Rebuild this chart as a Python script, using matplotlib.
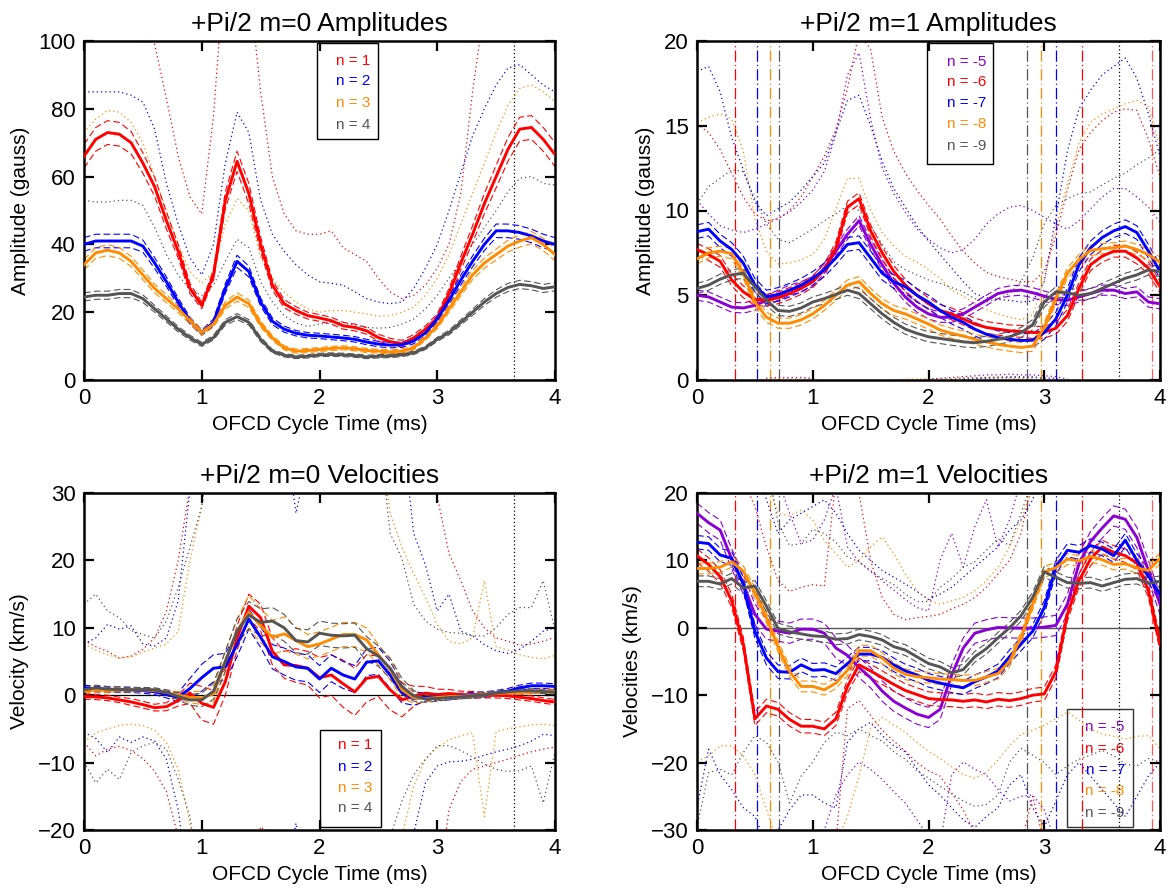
import numpy as np
import matplotlib
matplotlib.use("Agg")
import matplotlib.pyplot as plt
from matplotlib.patches import Rectangle

plt.rcParams['font.family'] = ['Liberation Sans', 'DejaVu Sans']

# ---------------- time grid (ms) ----------------
t = np.linspace(0.0, 4.0, 41)

RED, BLUE, ORANGE, GRAY, PURPLE = '#ff0000', '#0000ff', '#ff8c00', '#555555', '#8a00d4'

# ================= m=0 amplitudes (gauss) =================
tl_n1 = [66, 71, 73, 72.5, 70, 64, 57, 47, 38, 27, 22, 31, 53, 64.5, 55, 40, 28, 22.5, 20.5, 19, 18.3, 17.5, 16, 15.5, 14.5, 12.5, 11.3, 10.7, 12.4, 15, 18.3, 25.5, 34.5, 43, 52, 60, 68, 74, 74.5, 71, 66.5]
tl_n2 = [40, 41, 41, 41, 41, 39.5, 34.5, 29, 23, 17.5, 14, 17, 27, 35, 32, 23, 17.3, 15, 13.8, 13.2, 13, 12.7, 12.4, 12, 11.2, 10.6, 10.3, 10.4, 11.5, 13.9, 18, 23.5, 29.5, 35, 40, 44, 44, 43.5, 42.5, 41, 40]
tl_n3 = [34, 37.5, 38.3, 37.5, 35, 31, 27, 24, 21, 17.5, 14, 16.5, 22, 24.5, 22.5, 16.5, 12.4, 9.5, 8.5, 8.7, 9, 9.3, 9.5, 9.2, 8.7, 8.5, 8.3, 8.5, 9.5, 12.4, 16, 21, 26, 31, 34.5, 37, 39.5, 41, 42, 40, 37]
tl_n4 = [24.5, 25, 25, 25.5, 25.5, 24, 21, 18, 15, 12.5, 10.5, 12.5, 17, 18.7, 17, 12, 8.5, 7.3, 6.8, 7, 7.4, 7.5, 7.4, 7.2, 6.8, 7, 7.1, 7.4, 8, 9.5, 12, 14, 17, 20, 23, 25.5, 27.3, 28.2, 27.8, 27, 27.5]
tl_n1_err = [3.5, 3.5, 3.5, 3.5, 3.3, 3, 2.8, 2.5, 2, 1.5, 1, 1.5, 2.5, 3, 3, 2.2, 1.5, 1.2, 1.1, 1, 1, 1, 1, 1, 1, 1, 1, 1, 1, 1, 1.2, 1.5, 2, 2.5, 3, 3.3, 3.5, 3.5, 3.5, 3.5, 3.5]
tl_n2_err = [2, 2, 2, 2, 2, 1.8, 1.6, 1.4, 1.2, 1, 0.8, 1, 1.4, 1.8, 1.6, 1.2, 1, 0.9, 0.8, 0.8, 0.8, 0.8, 0.8, 0.8, 0.8, 0.8, 0.8, 0.8, 0.8, 0.9, 1, 1.2, 1.4, 1.6, 1.8, 2, 2, 2, 2, 2, 2]
tl_n3_err = [1.5, 1.6, 1.6, 1.6, 1.5, 1.4, 1.3, 1.2, 1.1, 1, 0.8, 0.9, 1.1, 1.2, 1.1, 0.9, 0.7, 0.6, 0.6, 0.6, 0.6, 0.6, 0.6, 0.6, 0.6, 0.6, 0.6, 0.6, 0.6, 0.7, 0.8, 1, 1.2, 1.4, 1.5, 1.6, 1.7, 1.8, 1.8, 1.8, 1.8]
tl_n4_err = [1.2, 1.2, 1.2, 1.2, 1.2, 1.1, 1, 0.9, 0.8, 0.7, 0.6, 0.7, 0.8, 0.9, 0.8, 0.7, 0.5, 0.5, 0.5, 0.5, 0.5, 0.5, 0.5, 0.5, 0.5, 0.5, 0.5, 0.5, 0.5, 0.5, 0.6, 0.7, 0.8, 0.9, 1, 1.1, 1.2, 1.2, 1.2, 1.2, 1.2]
tl_n1_up = [130, 130, 130, 130, 125, 110, 99, 83, 66, 54, 49, 78, 125, 140, 118, 85, 60, 49, 44, 43, 43, 44, 39, 37, 35, 30, 26, 24, 25, 28, 33, 40, 55, 85, 110, 130, 130, 130, 130, 130, 130]
tl_n2_up = [85, 85, 85, 85, 84, 82, 74, 58, 46, 36, 31, 40, 64, 79, 73, 53, 43, 38, 34, 31, 29, 28.5, 28, 26, 24, 23, 22.5, 23, 27, 33, 40, 50, 61, 72, 80, 87, 92, 93, 90, 87, 85]
tl_n3_up = [73, 77, 79.5, 79, 76, 70, 60, 50, 40, 32, 28.5, 32, 46, 53.5, 50, 36, 30, 26, 23, 21, 20, 20.5, 20.5, 20, 19.5, 18.8, 19, 20, 21.5, 25, 30, 37, 46, 55, 64, 73, 81, 86, 87, 85, 82]
tl_n4_up = [53, 52.5, 52.5, 53, 53, 51.5, 45, 37, 31, 26.5, 25, 28, 35, 41.5, 39, 29, 23, 19, 16.8, 15.8, 16.5, 17, 17, 16, 15.5, 15.3, 15.5, 16.5, 18, 21, 25, 30, 35, 40, 45, 50, 55.5, 59.5, 60, 58, 57.5]

# ================= m=1 amplitudes (gauss) =================
tr_n5 = [5.0, 4.9, 4.6, 4.3, 4.25, 4.4, 4.7, 5.0, 5.3, 5.5, 5.8, 6.6, 7.6, 8.6, 9.4, 8.0, 6.8, 5.7, 4.9, 4.3, 3.9, 3.7, 3.7, 3.9, 4.3, 4.7, 5.1, 5.25, 5.3, 5.15, 4.95, 4.75, 4.7, 4.9, 5.1, 5.3, 5.3, 5.1, 5.2, 4.6, 4.5]
tr_n6 = [7.7, 7.4, 7.0, 5.9, 5.2, 4.75, 4.7, 4.85, 5.1, 5.4, 5.8, 6.5, 7.8, 10.2, 10.7, 8.8, 7.5, 6.4, 5.6, 5.0, 4.5, 4.1, 3.9, 3.6, 3.3, 3.1, 3.0, 2.9, 2.87, 2.8, 2.82, 3.05, 3.8, 5.4, 6.8, 7.3, 7.6, 7.6, 7.2, 6.6, 5.5]
tr_n7 = [8.75, 8.9, 8.2, 7.7, 6.9, 5.6, 4.9, 5.05, 5.3, 5.6, 6.0, 6.5, 7.2, 8.0, 8.1, 7.2, 6.3, 5.8, 5.5, 5.0, 4.6, 4.1, 3.7, 3.4, 3.0, 2.7, 2.5, 2.4, 2.33, 2.35, 2.8, 3.6, 5.0, 6.8, 7.8, 8.4, 8.8, 9.05, 8.7, 7.6, 6.4]
tr_n8 = [7.15, 7.5, 7.6, 7.45, 6.3, 4.6, 3.7, 3.35, 3.35, 3.55, 3.9, 4.4, 5.0, 5.6, 5.8, 5.1, 4.5, 4.1, 3.9, 3.6, 3.3, 2.95, 2.75, 2.6, 2.4, 2.25, 2.1, 2.0, 1.92, 2.0, 3.1, 4.8, 6.3, 7.1, 7.65, 7.75, 7.8, 7.9, 7.7, 7.4, 6.95]
tr_n9 = [5.4, 5.6, 5.95, 6.2, 6.3, 5.5, 4.7, 4.1, 4.05, 4.25, 4.6, 4.8, 5.05, 5.3, 5.1, 4.5, 3.9, 3.4, 3.0, 2.75, 2.55, 2.45, 2.35, 2.25, 2.2, 2.28, 2.4, 2.55, 2.8, 3.26, 4.6, 5.2, 5.15, 5.0, 5.1, 5.4, 5.7, 6.0, 6.2, 6.5, 6.4]
tr_err = {'n5': 0.3, 'n6': 0.35, 'n7': 0.4, 'n8': 0.3, 'n9': 0.3}
tr_n5_up = [10.6, 9.8, 9.1, 8.85, 8.7, 8.9, 9.2, 9.55, 9.9, 10.5, 11.2, 12.3, 14.5, 18, 19.3, 15.4, 12.5, 11.0, 9.9, 8.9, 8.3, 7.8, 7.5, 7.7, 8.3, 9.2, 9.8, 10.2, 10.3, 10.0, 9.6, 9.2, 8.9, 9.4, 10.1, 10.8, 11.3, 11.3, 10.8, 10.2, 9.3]
tr_n6_up = [15.1, 14.6, 13.6, 12.2, 10.8, 9.8, 9.4, 9.5, 10.0, 10.8, 12.0, 13.2, 14.8, 17.2, 20.5, 19.5, 15.5, 13.5, 12.2, 11.2, 10.3, 9.5, 8.5, 7.6, 6.9, 6.35, 6.1, 5.95, 5.8, 5.8, 6.4, 8.5, 11.2, 13.6, 14.6, 15.3, 15.8, 16.0, 15.9, 14.2, 12.0]
tr_n7_up = [18.2, 18.5, 17, 14.3, 12.4, 10.5, 9.7, 10.1, 10.5, 11.2, 12, 12.8, 14.6, 16.5, 16.8, 15.0, 12.9, 11.3, 10.2, 9.1, 8.2, 7.4, 6.6, 5.8, 5.1, 4.85, 4.75, 4.7, 4.6, 4.65, 5.8, 9.6, 13.5, 16, 17.1, 18.0, 18.5, 19.0, 17.8, 15.7, 13.2]
tr_n8_up = [15.2, 15.5, 15.7, 15.4, 13.5, 9.5, 7.6, 6.85, 6.9, 7.1, 7.4, 8.3, 10.1, 11.9, 11.9, 10.0, 8.7, 7.9, 7.3, 6.95, 6.5, 6.0, 5.3, 4.95, 4.5, 4.15, 3.9, 3.7, 3.55, 3.85, 5.9, 9.0, 11.6, 14, 15.2, 15.7, 16.0, 16.3, 16.5, 16.1, 13.7]
tr_n9_up = [10.4, 11.4, 11.9, 12.4, 12.3, 10.7, 9.2, 8.3, 8.1, 8.5, 8.9, 9.4, 9.8, 10.3, 10.0, 9.1, 8.0, 7.0, 6.5, 6.2, 5.9, 5.7, 5.45, 5.2, 4.8, 4.6, 4.8, 5.1, 5.8, 7.2, 9.2, 10.3, 10.7, 11.0, 11.1, 11.5, 11.9, 12.2, 12.7, 13.1, 13.6]
tr_n5_lo = [-1, -1, -1, -1, -1, -0.2, 0.1, 0.15, 0.15, 0.15, 0.1, -0.2, -1, -1, -1, -1, -1, -1, -1, -1, 0.05, 0.1, 0.15, 0.2, 0.25, 0.3, 0.3, 0.35, 0.3, 0.3, 0.25, 0.2, 0.05, -0.5, -1, -1, -1, -1, -1, -1, -1]
tr_n7_lo = [-1, -1, -1, -1, -1, -1, -1, -1, -1, -1, -1, -1, -1, -1, -1, -1, -1, -1, -1, -1, -1, -1, -1, 0.05, 0.08, 0.1, 0.12, 0.15, 0.15, 0.15, 0.12, 0.1, -0.3, -1, -1, -1, -1, -1, -1, -1, -1]
tr_n8_lo = [-1, -1, -1, -1, -1, -0.1, 0.05, 0.1, 0.1, 0.1, 0.05, -0.3, -1, -1, -1, -1, -1, 0.0, 0.05, 0.05, 0.1, 0.1, 0.1, 0.15, 0.15, 0.15, 0.15, 0.1, 0.1, 0.05, -0.3, -1, -1, -1, -1, -1, -1, -1, -1, -1, -1]
tr_n9_lo = [-1, -1, -1, -1, -1, -1, -1, -1, -1, -1, -1, -1, -1, -1, -1, -1, -1, -1, -1, -1, -1, -1, 0.05, 0.1, 0.12, 0.15, 0.18, 0.2, 0.2, 0.2, 0.1, -0.3, -1, -1, -1, -1, -1, -1, -1, -1, -1]

# ================= m=0 velocities (km/s) =================
bl_n1 = [-0.2, -0.25, -0.4, -0.7, -1.0, -1.4, -1.85, -1.7, -0.8, 0.3, -1.2, -1.8, 2.0, 8.5, 13.2, 11.5, 6.5, 4.5, 4.4, 4.0, 2.6, 3.0, 1.7, 0.5, 2.5, 2.8, 0.8, -0.7, -0.15, 0.3, 0.1, 0.25, 0.1, 0.05, 0, 0, -0.1, -0.3, -0.5, -0.8, -1.0]
bl_n2 = [1.1, 0.9, 0.8, 0.8, 0.8, 0.7, 0.5, 0.1, -0.3, 1.0, 2.6, 4.0, 4.2, 7.5, 11.3, 8.6, 5.7, 5.0, 4.2, 4.0, 2.4, 4.0, 3.0, 2.4, 4.9, 5.1, 3.0, 0.35, -0.5, -0.3, -0.3, -0.3, -0.1, 0, 0.1, 0.3, 0.6, 1.1, 1.4, 1.4, 1.3]
bl_n3 = [0.6, 0.8, 0.7, 0.8, 0.8, 0.8, 0.7, 0.4, 0.0, -0.3, -0.4, 0.2, 5.0, 9.5, 12.3, 10.3, 8.6, 9.1, 8.1, 7.2, 7.6, 8.3, 9.0, 9.0, 8.2, 6.0, 3.8, 0.8, -0.4, -0.5, -0.35, -0.2, -0.15, -0.05, 0.1, 0.25, 0.35, 0.45, 0.55, 0.6, 0.6]
bl_n4 = [0.8, 1.1, 0.9, 0.85, 0.8, 0.85, 0.8, 0.4, -0.2, -0.7, -0.7, 0.6, 5.0, 9.5, 11.9, 10.8, 11.0, 10.0, 8.1, 7.9, 9.2, 8.9, 8.8, 8.9, 6.9, 5.8, 4.0, 1.3, -0.1, -0.55, -0.5, -0.35, -0.25, -0.1, 0.05, 0.3, 0.5, 0.65, 0.65, 0.55, 0.45]
bl_n1_err = [0.4, 0.4, 0.4, 0.4, 0.5, 0.5, 0.5, 0.6, 0.8, 1.5, 2.5, 2.5, 2.0, 1.8, 1.8, 2.0, 2.0, 2.0, 2.5, 2.5, 3.0, 3.0, 3.5, 3.5, 3.5, 3.0, 3.0, 2.5, 1.5, 1.0, 0.8, 0.6, 0.5, 0.5, 0.4, 0.4, 0.4, 0.4, 0.4, 0.4, 0.4]
bl_n2_err = [0.4, 0.4, 0.4, 0.4, 0.4, 0.4, 0.4, 0.5, 0.7, 1.5, 2.0, 2.0, 2.0, 1.8, 1.5, 1.5, 1.8, 2.0, 2.0, 2.0, 2.0, 2.0, 2.0, 2.0, 2.0, 2.0, 2.0, 1.5, 1.0, 0.6, 0.5, 0.4, 0.4, 0.4, 0.4, 0.4, 0.4, 0.4, 0.4, 0.4, 0.4]
bl_n3_err = [0.3, 0.3, 0.3, 0.3, 0.3, 0.3, 0.3, 0.4, 0.5, 0.8, 1.0, 1.2, 1.5, 1.8, 2.5, 2.5, 2.5, 2.5, 2.0, 1.8, 1.8, 1.8, 1.8, 1.8, 1.8, 1.5, 1.5, 1.2, 0.8, 0.5, 0.4, 0.3, 0.3, 0.3, 0.3, 0.3, 0.3, 0.3, 0.3, 0.3, 0.3]
bl_n4_err = [0.3, 0.4, 0.4, 0.4, 0.3, 0.3, 0.3, 0.4, 0.5, 0.8, 1.0, 1.2, 1.5, 1.8, 2.0, 2.0, 2.0, 2.0, 1.8, 1.8, 1.8, 1.8, 1.8, 1.8, 1.8, 1.5, 1.5, 1.2, 0.8, 0.5, 0.4, 0.3, 0.3, 0.3, 0.3, 0.3, 0.3, 0.3, 0.3, 0.3, 0.3]
bl_n1_up = [8.1, 7.2, 6.5, 5.5, 5.8, 6.8, 8.5, 12.5, 20, 31, 40, 40, 40, 40, 40, 40, 40, 40, 40, 40, 40, 40, 40, 40, 40, 40, 40, 40, 40, 40, 29.5, 21, 17, 12.5, 10, 8.5, 8.0, 7.4, 7.6, 8.0, 8.6]
bl_n2_up = [7.6, 8.5, 10.5, 9.8, 10.3, 7.6, 7.3, 8.5, 14, 30.5, 40, 40, 40, 40, 40, 40, 40, 40, 27, 35, 40, 40, 40, 40, 40, 40, 40, 40, 24, 19.3, 12.5, 15, 9.5, 8.8, 7.5, 6.6, 6.2, 6.8, 8.0, 9.5, 10]
bl_n3_up = [7.6, 6.7, 6.0, 5.5, 5.7, 6.4, 7.0, 7.6, 9.5, 20, 28, 40, 40, 40, 40, 40, 40, 40, 40, 40, 40, 40, 40, 40, 40, 40, 27, 22, 18, 14.5, 10.5, 8.0, 7.6, 8.5, 17, 7.2, 6.7, 6.0, 5.6, 5.4, 5.9]
bl_n4_up = [13.5, 15, 12.5, 11.5, 9.6, 9.0, 8.5, 11, 16, 22, 28, 40, 40, 40, 40, 40, 40, 40, 40, 40, 40, 40, 40, 40, 40, 40, 24, 20.3, 13.5, 11, 9.8, 9.3, 9.2, 8.8, 8.8, 10, 12, 13, 13, 17, 9.6]
bl_n1_lo = [-7, -9, -8, -7.6, -8.2, -9.4, -11.3, -14.3, -21, -30, -30, -30, -30, -30, -30, -19.5, -21, -30, -30, -30, -30, -30, -30, -30, -30, -30, -30, -30, -30, -30, -30, -17, -12.8, -11, -10.5, -10, -9.5, -8.9, -8.4, -8, -7.7]
bl_n2_lo = [-5.5, -6.4, -8.5, -6.2, -7, -6.2, -6.8, -9.5, -17, -30, -30, -30, -30, -30, -30, -30, -30, -30, -19, -30, -30, -30, -30, -30, -30, -30, -30, -30, -20.5, -13, -10.5, -9.9, -9.8, -9.5, -8.9, -8.4, -8, -7.5, -6.8, -5.8, -6]
bl_n3_lo = [-7, -5.6, -5, -4.5, -4.3, -4.5, -5.2, -7, -11, -19, -30, -30, -30, -30, -30, -30, -30, -30, -30, -30, -30, -30, -30, -30, -30, -30, -30, -21, -13.5, -9.5, -7.8, -6.6, -6, -5.6, -18, -5.4, -5, -4.7, -4.4, -4.3, -4.5]
bl_n4_lo = [-9.9, -13, -11, -12.5, -8.5, -7.5, -7, -8, -12.5, -18, -30, -30, -30, -30, -30, -30, -30, -30, -30, -30, -30, -30, -30, -30, -30, -30, -21, -15.7, -11.8, -9.5, -7.5, -7.5, -8.2, -9.2, -10.2, -11, -11.3, -11.2, -10.5, -16, -8.4]

# ================= m=1 velocities (km/s) =================
br_n5 = [17, 15.6, 14.5, 10.2, 6.5, 2.0, -0.2, -0.5, -0.8, -0.2, -0.2, -0.8, -3.0, -4.1, -5.9, -7.4, -9.4, -10.9, -11.9, -12.8, -13.3, -12.1, -7.0, -3.0, -0.8, -0.3, 0.05, 0, -0.05, -0.05, 0.1, 0.35, 3.5, 9.5, 12.8, 14.8, 16.6, 16.1, 13.4, 8.5, 3.5]
br_n6 = [10.7, 9.4, 7.6, 4.0, -2.4, -13.5, -11.6, -12.1, -13.6, -14.6, -14.6, -15, -13.5, -8.7, -5.5, -6.4, -7.4, -8.4, -9.3, -9.9, -10.5, -10.65, -10.7, -10.9, -10.7, -11.0, -10.6, -10.8, -10.5, -10.0, -9.8, -6.5, 2.0, 7.0, 10.2, 12.0, 11.2, 10.7, 9.6, 5.5, -2.4]
br_n7 = [12.7, 12.5, 10.8, 10.3, 6.5, -0.5, -4.5, -6.5, -6.6, -5.5, -6.3, -6.2, -6.8, -5.3, -3.9, -3.9, -4.4, -5.5, -6.4, -7.0, -7.8, -8.2, -8.6, -8.9, -8.0, -7.3, -6.4, -4.3, -2.4, -0.5, 3.0, 9.0, 11.5, 11.2, 12.2, 11.7, 10.7, 13.0, 10.0, 7.7, 4.9]
br_n8 = [8.8, 8.8, 9.0, 9.8, 8.4, 5.2, 1.5, -2.8, -6.5, -8.7, -8.7, -9.2, -8.2, -6.3, -3.4, -3.4, -4.5, -6.0, -6.9, -7.25, -7.4, -7.6, -7.7, -7.8, -7.8, -7.3, -6.8, -5.0, -1.4, 3.5, 8.3, 8.9, 10.2, 9.9, 10.6, 10.1, 9.4, 9.5, 8.9, 8.5, 10.3]
br_n9 = [6.9, 6.9, 6.5, 7.3, 5.9, 6.2, 3.2, -0.1, -0.6, -0.9, -1.2, -1.3, -1.7, -1.6, -1.0, -1.3, -1.8, -2.8, -3.3, -4.3, -5.3, -5.8, -6.7, -6.2, -4.3, -3.1, -1.5, 0.0, 1.8, 4.5, 8.3, 7.5, 6.7, 6.6, 6.7, 6.2, 6.7, 7.2, 7.3, 6.6, 6.9]
br_err = {'n5': 1.5, 'n6': 1.0, 'n7': 1.0, 'n8': 0.8, 'n9': 0.8}
br_n5_up = [25, 25, 25, 25, 25, 25, 25, 22, 17, 12.5, 13, 16, 21, 12, 9.8, 8.5, 7, 5.6, 4.2, 3, 2.5, 10, 14, 9, 15, 19, 12, 16, 22, 25, 25, 25, 25, 25, 25, 25, 25, 25, 25, 25, 25]
br_n6_up = [25, 25, 25, 25, 22, 18, 12, 7, 5.4, 6, 6.4, 6.2, 22, 25, 20, 10, 4.5, 2.0, 1.2, 1.5, 1.7, 2.0, 2.8, 3.5, 4.5, 6, 8, 10, 14, 22, 25, 25, 25, 25, 25, 25, 25, 25, 25, 25, 25]
br_n7_up = [25, 25, 25, 25, 25, 25, 19, 14, 16, 17, 18, 19, 17, 14, 11.5, 10, 8.5, 7.5, 6.5, 5.4, 4.2, 5.0, 6.0, 7.5, 9, 10.5, 12, 14.5, 16, 19, 25, 25, 25, 25, 25, 25, 25, 25, 25, 25, 25]
br_n8_up = [25, 25, 25, 25, 25, 25, 22, 17, 16.6, 17.5, 16, 13, 11, 9, 10, 12, 13.5, 11, 8, 5.5, 4, 3.5, 4, 4.5, 5.5, 7, 9, 12, 16, 21, 25, 25, 25, 25, 25, 25, 25, 25, 25, 25, 25]
br_n9_up = [25, 25, 25, 25, 25, 25, 25, 15.6, 12.2, 12.5, 14.6, 14, 12.7, 10.5, 9.8, 8.3, 7.3, 6.4, 5, 3.9, 3.9, 6, 7.3, 9, 9.8, 11.5, 13.2, 12.2, 17, 22, 25, 25, 25, 25, 25, 25, 25, 25, 25, 25, 25]
br_n5_lo = [-32, -32, -32, -32, -32, -32, -32, -32, -32, -32, -32, -30, -24.8, -21.8, -19.9, -21, -22.5, -24.3, -26, -28.5, -31, -32, -21.8, -19.9, -21, -21.8, -24, -25.7, -25, -24.8, -27, -32, -32, -32, -32, -32, -32, -32, -32, -32, -32]
br_n6_lo = [-32, -32, -32, -32, -32, -32, -32, -32, -32, -32, -32, -32, -32, -12, -10.8, -13, -15.2, -16.8, -18.3, -20, -21.2, -22, -24.5, -27, -30.5, -32, -32, -32, -32, -25, -32, -32, -32, -32, -32, -32, -32, -32, -32, -32, -32]
br_n7_lo = [-26.7, -18, -21.8, -24, -26.7, -28, -32, -30, -27, -24.8, -24.8, -26, -26.7, -17, -15, -14, -16, -17.5, -18.4, -20.9, -23.3, -24.8, -26.7, -28.5, -29.6, -28, -26.7, -23.3, -21.8, -26.7, -29.6, -25.7, -21.8, -20, -22, -24, -26, -28, -25, -22, -20]
br_n8_lo = [-19.9, -19, -17.5, -17.5, -19, -21.8, -27, -32, -32, -32, -32, -32, -32, -28, -22, -14.8, -13.3, -14.4, -15.5, -17, -18.3, -19.4, -20.6, -21.8, -22.3, -21.5, -19.6, -17.5, -15.8, -15.2, -14.5, -13.5, -12.5, -13.7, -15, -15.8, -16.1, -16.5, -16.1, -16, -17.9]
br_n9_lo = [-29.6, -21.5, -21, -21.8, -18.5, -16, -17, -19.9, -26, -22, -19.9, -17, -15.5, -16, -15, -16, -16.8, -18.4, -19.5, -21.2, -22.3, -23.5, -24.6, -25.7, -26.5, -26.2, -24.8, -19.9, -17.9, -18.9, -20, -21.8, -20.5, -19.5, -18.9, -18.2, -19, -20.2, -20.5, -19.4, -19.9]

# vertical markers (ms)
m1_vline_x = [0.33, 0.52, 0.63, 0.71, 2.85, 2.97, 3.10, 3.33, 3.93]
m1_vline_colors = [RED, BLUE, ORANGE, GRAY, GRAY, ORANGE, BLUE, RED, '#ff5a5a']
cycle_mark = 3.65

m0_labels = ['n = 1', 'n = 2', 'n = 3', 'n = 4']
m0_colors = [RED, BLUE, ORANGE, GRAY]
m1_labels = ['n = -5', 'n = -6', 'n = -7', 'n = -8', 'n = -9']
m1_colors = [PURPLE, RED, BLUE, ORANGE, GRAY]

# ---------------- drawing ----------------
DOT = (0, (1.0, 2.4))
DASH = (0, (6, 3))
W, H = 1172, 891
fig = plt.figure(figsize=(W / 100, H / 100), dpi=100)


def pos(l, r, top, b):
    return [l / W, 1 - b / H, (r - l) / W, (b - top) / H]


def check(*arrs):
    for a in arrs:
        if a is not None and not np.isscalar(a) and len(a) != len(t):
            raise ValueError('bad length %d' % len(a))


def draw(ax, series):
    for c, e, up, lo, col in series:
        check(c, e, up, lo)
        for b in (up, lo):
            if b is not None:
                ax.plot(t, b, ls=DOT, lw=0.9, color=col, zorder=1.5)
    for c, e, up, lo, col in series:
        c = np.asarray(c, float)
        e = np.asarray(e, float)
        ax.plot(t, c + e, ls=DASH, lw=0.8, color=col, zorder=2)
        ax.plot(t, c - e, ls=DASH, lw=0.8, color=col, zorder=2)
        ax.plot(t, c, lw=2.1, color=col, zorder=3)


def setup(ax, ylim, yticks, title, ylabel):
    ax.set_xlim(0, 4)
    ax.set_ylim(*ylim)
    ax.set_xticks([0, 1, 2, 3, 4])
    ax.set_yticks(yticks)
    ax.tick_params(direction='in', length=7, width=1.6, top=True, right=True,
                   labelsize=16, pad=6)
    for s in ax.spines.values():
        s.set_linewidth(1.8)
    ax.set_title(title, fontsize=19, pad=7)
    ax.set_xlabel('OFCD Cycle Time (ms)', fontsize=15, labelpad=4)
    ax.set_ylabel(ylabel, fontsize=15, labelpad=6)
    ax.axvline(cycle_mark, color='black', ls=(0, (1, 2)), lw=0.9, zorder=1.4)


def legend(ax, box, labels, colors, xt, ys, ec='black'):
    l, b, r, tp = box
    ax.add_patch(Rectangle((l, b), r - l, tp - b, transform=ax.transAxes, fill=False,
                           ec=ec, lw=1.0, zorder=1.2))
    for lab, col, y in zip(labels, colors, ys):
        ax.text(xt, y, lab, transform=ax.transAxes, ha='right', va='center',
                color=col, fontsize=11, zorder=1.3)


def vlines(ax):
    for x, col in zip(m1_vline_x, m1_vline_colors):
        ax.axvline(x, color=col, lw=0.9, ls=(0, (9, 2.5, 1, 2.5)), zorder=1.4)


axTL = fig.add_axes(pos(84, 555, 41, 380))
axTR = fig.add_axes(pos(697, 1160, 41, 380))
axBL = fig.add_axes(pos(84, 555, 493, 830))
axBR = fig.add_axes(pos(697, 1160, 493, 830))

# top-left
setup(axTL, (0, 100), [0, 20, 40, 60, 80, 100], '+Pi/2 m=0 Amplitudes', 'Amplitude (gauss)')
draw(axTL, [(tl_n1, tl_n1_err, tl_n1_up, None, RED),
            (tl_n2, tl_n2_err, tl_n2_up, None, BLUE),
            (tl_n3, tl_n3_err, tl_n3_up, None, ORANGE),
            (tl_n4, tl_n4_err, tl_n4_up, None, GRAY)])
legend(axTL, (0.495, 0.711, 0.624, 0.994), m0_labels, m0_colors, 0.607,
       [0.941, 0.882, 0.817, 0.752])

# top-right
setup(axTR, (0, 20), [0, 5, 10, 15, 20], '+Pi/2 m=1 Amplitudes', 'Amplitude (gauss)')
vlines(axTR)
draw(axTR, [(tr_n5, tr_err['n5'], tr_n5_up, tr_n5_lo, PURPLE),
            (tr_n6, tr_err['n6'], tr_n6_up, None, RED),
            (tr_n7, tr_err['n7'], tr_n7_up, tr_n7_lo, BLUE),
            (tr_n8, tr_err['n8'], tr_n8_up, tr_n8_lo, ORANGE),
            (tr_n9, tr_err['n9'], tr_n9_up, tr_n9_lo, GRAY)])
legend(axTR, (0.497, 0.637, 0.639, 0.995), m1_labels, m1_colors, 0.624,
       [0.939, 0.880, 0.818, 0.754, 0.690])

# bottom-left
setup(axBL, (-20, 30), [-20, -10, 0, 10, 20, 30], '+Pi/2 m=0 Velocities', 'Velocity (km/s)')
axBL.axhline(0, color='black', lw=0.9, zorder=1.4)
draw(axBL, [(bl_n1, bl_n1_err, bl_n1_up, bl_n1_lo, RED),
            (bl_n2, bl_n2_err, bl_n2_up, bl_n2_lo, BLUE),
            (bl_n3, bl_n3_err, bl_n3_up, bl_n3_lo, ORANGE),
            (bl_n4, bl_n4_err, bl_n4_up, bl_n4_lo, GRAY)])
legend(axBL, (0.5, 0.008, 0.63, 0.298), m0_labels, m0_colors, 0.613,
       [0.251, 0.188, 0.125, 0.064])

# bottom-right
setup(axBR, (-30, 20), [-30, -20, -10, 0, 10, 20], '+Pi/2 m=1 Velocities', 'Velocities (km/s)')
axBR.axhline(0, color=GRAY, lw=1.0, zorder=1.4)
vlines(axBR)
draw(axBR, [(br_n5, br_err['n5'], br_n5_up, br_n5_lo, PURPLE),
            (br_n6, br_err['n6'], br_n6_up, br_n6_lo, RED),
            (br_n7, br_err['n7'], br_n7_up, br_n7_lo, BLUE),
            (br_n8, br_err['n8'], br_n8_up, br_n8_lo, ORANGE),
            (br_n9, br_err['n9'], br_n9_up, br_n9_lo, GRAY)])
legend(axBR, (0.799, 0.009, 0.942, 0.359), m1_labels, m1_colors, 0.924,
       [0.307, 0.240, 0.178, 0.117, 0.051], ec='#333333')

fig.savefig('out.png', dpi=100)
